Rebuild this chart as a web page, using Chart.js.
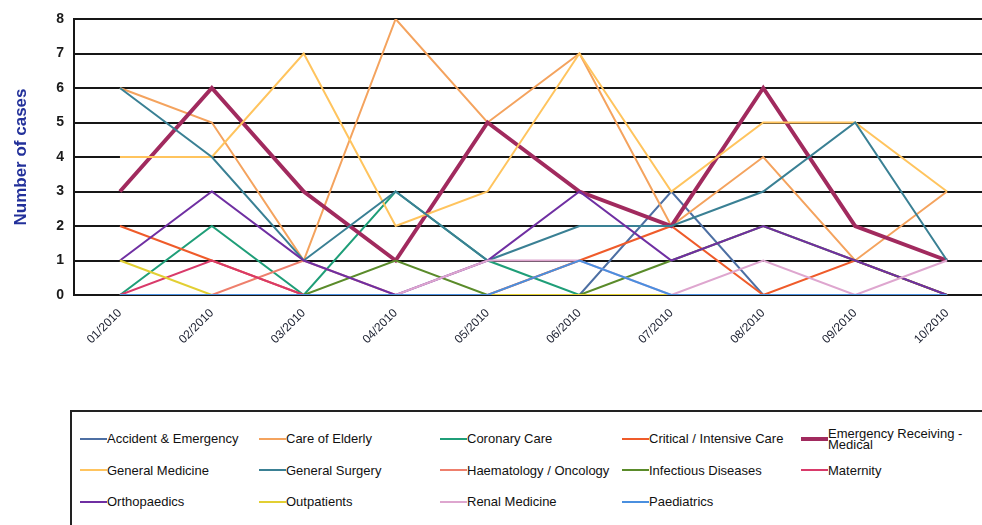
<!DOCTYPE html>
<html>
<head>
<meta charset="utf-8">
<script src="https://cdn.jsdelivr.net/npm/chart.js@4.4.1/dist/chart.umd.min.js"></script>
<style>
  html, body { margin: 0; padding: 0; background: #fff; }
  #wrap { position: relative; width: 982px; height: 525px; overflow: hidden; }
  #chartBox { position: absolute; left: 0; top: 0; width: 1000px; height: 400px; }
  #legend {
    position: absolute; left: 70px; top: 410px; width: 1000px; height: 200px;
    border: 2px solid #222; box-sizing: border-box;
    display: grid; grid-template-columns: 179px 181px 182px 179px 200px;
    grid-auto-rows: 31.5px; padding: 11px 0 0 8px;
    font-family: "Liberation Sans", Arial, sans-serif; font-size: 13px; color: #111;
  }
  .item { display: flex; align-items: center; }
  .swatch { width: 27px; flex: none; }
  .label { line-height: 11px; }
</style>
</head>
<body>
<div id="wrap">
  <div id="chartBox"><canvas id="myChart"></canvas></div>
  <div id="legend"></div>
</div>
<script>
// Meses (eje X)
const months = ['01/2010', '02/2010', '03/2010', '04/2010', '05/2010',
                '06/2010', '07/2010', '08/2010', '09/2010', '10/2010'];

// Casos por especialidad
const accidentEmergency = [0, 0, 0, 0, 0, 0, 3, 0, 0, 0];
const careOfElderly     = [6, 5, 1, 8, 5, 7, 2, 4, 1, 3];
const coronaryCare      = [0, 2, 0, 3, 1, 0, 0, 0, 0, 0];
const criticalCare      = [2, 1, 0, 0, 0, 1, 2, 0, 1, 0];
const emergencyMedical  = [3, 6, 3, 1, 5, 3, 2, 6, 2, 1];
const generalMedicine   = [4, 4, 7, 2, 3, 7, 3, 5, 5, 3];
const generalSurgery    = [6, 4, 1, 3, 1, 2, 2, 3, 5, 1];
const haematology       = [0, 0, 1, 0, 0, 0, 0, 0, 0, 0];
const infectious        = [0, 0, 0, 1, 0, 0, 1, 2, 1, 0];
const maternity         = [0, 1, 0, 0, 0, 0, 0, 0, 0, 0];
const orthopaedics      = [1, 3, 1, 0, 1, 3, 1, 2, 1, 0];
const outpatients       = [1, 0, 0, 0, 0, 0, 0, 0, 0, 0];
const renalMedicine     = [0, 0, 0, 0, 1, 1, 0, 1, 0, 1];
const paediatrics       = [0, 0, 0, 0, 0, 1, 0, 0, 0, 0];

const yTicks = [0, 1, 2, 3, 4, 5, 6, 7, 8];

const series = [
  ['Accident & Emergency', accidentEmergency, '#4d6fa3', 2],
  ['Care of Elderly', careOfElderly, '#f4a35e', 2],
  ['Coronary Care', coronaryCare, '#1f9e78', 2],
  ['Critical / Intensive Care', criticalCare, '#ef5b2a', 2],
  ['Emergency Receiving - Medical', emergencyMedical, '#a12a5e', 4],
  ['General Medicine', generalMedicine, '#ffc45e', 2],
  ['General Surgery', generalSurgery, '#3a8094', 2],
  ['Haematology / Oncology', haematology, '#ee7f6c', 2],
  ['Infectious Diseases', infectious, '#5a8b2a', 2],
  ['Maternity', maternity, '#d93a6a', 2],
  ['Orthopaedics', orthopaedics, '#6f2fa2', 2],
  ['Outpatients', outpatients, '#e2cf33', 2],
  ['Renal Medicine', renalMedicine, '#dea6cf', 2],
  ['Paediatrics', paediatrics, '#4a8fdf', 2]
];

const datasets = series.map((s, i) => ({
  label: s[0],
  data: s[1],
  borderColor: s[2],
  backgroundColor: s[2],
  borderWidth: s[3],
  pointRadius: 0,
  tension: 0,
  order: series.length - i  // la última serie queda encima
}));

const ctx = document.getElementById('myChart').getContext('2d');
new Chart(ctx, {
  type: 'line',
  data: { labels: months, datasets: datasets },
  options: {
    responsive: true,
    maintainAspectRatio: false,
    animation: false,
    layout: { padding: { top: 19, right: 7, bottom: 0, left: 0 } },
    plugins: {
      legend: { display: false },
      tooltip: { enabled: false }
    },
    scales: {
      x: {
        offset: true,
        grid: { display: false },
        border: { display: false },
        ticks: {
          color: '#1c2030',
          font: { family: 'Liberation Sans', size: 12 },
          minRotation: 45,
          maxRotation: 45,
          padding: 3
        },
        afterFit: (scale) => { scale.height = 105; }
      },
      y: {
        min: 0,
        max: 8,
        afterBuildTicks: (scale) => { scale.ticks = yTicks.map(v => ({ value: v })); },
        grid: { color: '#161616', lineWidth: 2, drawTicks: false },
        border: { display: true, color: '#161616', width: 2 },
        ticks: {
          color: '#1a1a1a',
          font: { family: 'Liberation Sans', size: 14, weight: 'bold' },
          padding: 10
        },
        title: {
          display: true,
          text: 'Number of cases',
          color: '#22309a',
          font: { family: 'Liberation Sans', size: 17, weight: 'bold' },
          padding: { top: 11, bottom: 0 }
        },
        afterFit: (scale) => { scale.width = 74; }
      }
    }
  }
});

// Leyenda en HTML con la misma distribución que la original
const legend = document.getElementById('legend');
series.forEach(s => {
  const item = document.createElement('div');
  item.className = 'item';
  const sw = document.createElement('div');
  sw.className = 'swatch';
  sw.style.height = s[3] + 'px';
  sw.style.background = s[2];
  const lb = document.createElement('span');
  lb.className = 'label';
  lb.textContent = s[0];
  if (s[3] > 2) lb.style.width = '150px';
  item.appendChild(sw);
  item.appendChild(lb);
  legend.appendChild(item);
});
</script>
</body>
</html>
